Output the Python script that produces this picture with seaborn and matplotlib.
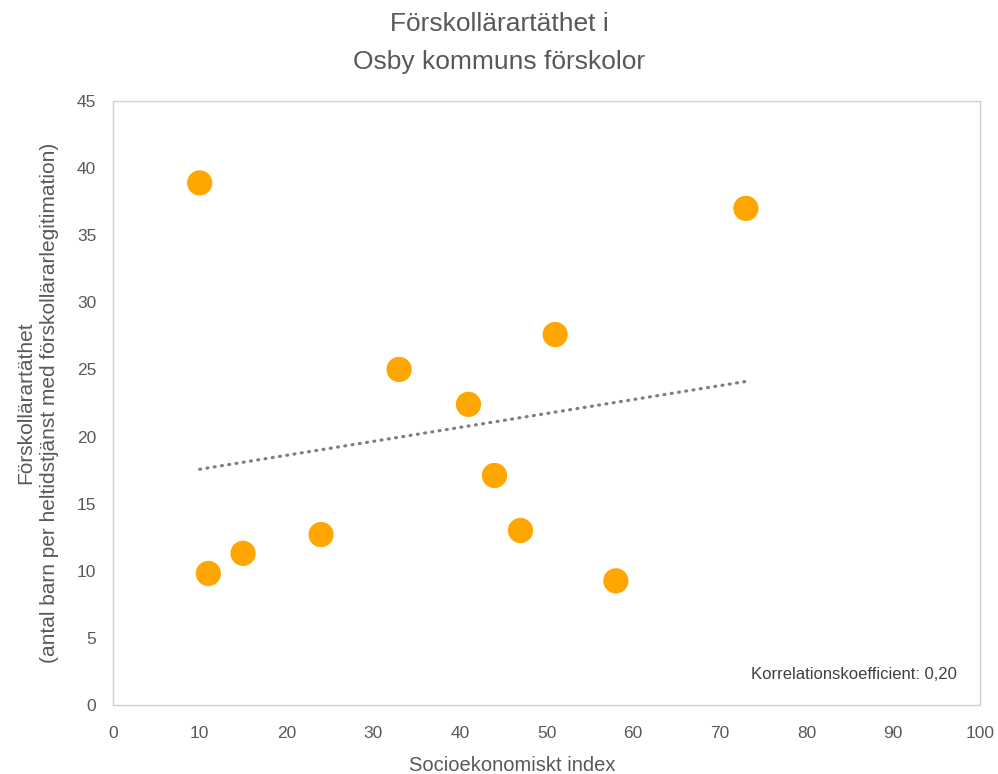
import numpy as np
import pandas as pd
import matplotlib
matplotlib.use("Agg")
import matplotlib.pyplot as plt
import seaborn as sns

x_index = [10, 11, 15, 24, 33, 41, 44, 47, 51, 58, 73]
y_density = [38.9, 9.8, 11.3, 12.7, 25.0, 22.4, 17.1, 13.0, 27.6, 9.25, 37.0]
corr_text = "Korrelationskoefficient: 0,20"
title = "Förskollärartäthet i\nOsby kommuns förskolor"
xlabel = "Socioekonomiskt index"
ylabel = "Förskollärartäthet\n(antal barn per heltidstjänst med förskollärarlegitimation)"
xticks = list(range(0, 101, 10))
yticks = list(range(0, 46, 5))

sns.set_theme(style="white")
plt.rcParams['font.family'] = ['Liberation Sans', 'DejaVu Sans']

df = pd.DataFrame({"x": x_index, "y": y_density})

fig = plt.figure(figsize=(9.98, 7.74), dpi=100)
ax = fig.add_axes([113/998, 1-705/774, (980-113)/998, (705-101)/774])

coef = np.polyfit(df["x"], df["y"], 1)
xs = np.array([df["x"].min(), df["x"].max()])
trend = pd.DataFrame({"x": xs, "y": np.polyval(coef, xs)})
sns.lineplot(data=trend, x="x", y="y", ax=ax, color="#7f7f7f", lw=2.3,
             linestyle=(0, (0.3, 2.0)), dash_capstyle="round", zorder=2)

sns.scatterplot(data=df, x="x", y="y", ax=ax, s=330, color="#FFA600",
                edgecolor="none", zorder=3)

ax.set_xlim(0, 100)
ax.set_ylim(0, 45)
ax.set_xticks(xticks)
ax.set_yticks(yticks)
ax.tick_params(axis="both", labelsize=12.5, colors="#595959", length=0)
ax.tick_params(axis="x", pad=15)
ax.tick_params(axis="y", pad=12)
for s in ax.spines.values():
    s.set_color("#d0d0d0")
    s.set_linewidth(1)

ax.set_xlabel(xlabel, fontsize=14.5, color="#595959")
ax.xaxis.set_label_coords((512-113)/867, -0.085)
ax.set_ylabel(ylabel, fontsize=15, color="#595959", labelpad=13, linespacing=1.3)
fig.suptitle(title, fontsize=19, color="#595959", y=0.985, linespacing=1.75)

ax.text((957-113)/867, 0.05, corr_text, transform=ax.transAxes, ha="right", va="center",
        fontsize=12, color="#404040")

fig.savefig("out.png", dpi=100)
